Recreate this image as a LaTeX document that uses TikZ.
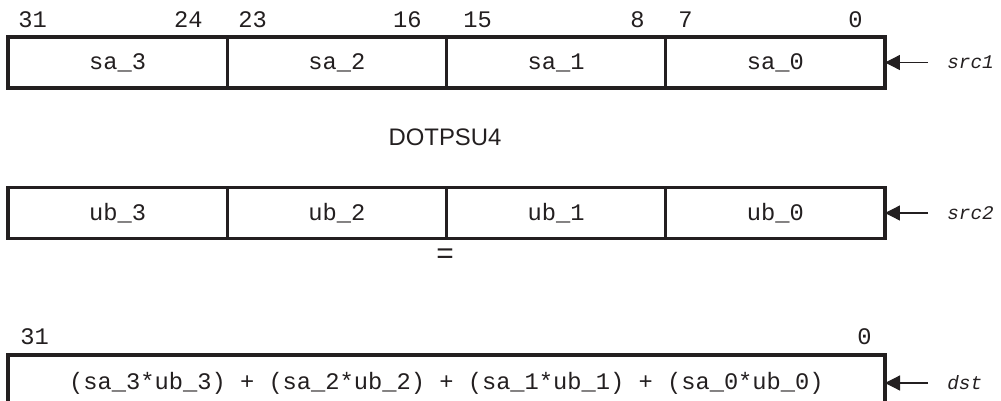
\documentclass[tikz,border=0pt]{standalone}
\usepackage{fontspec}
\setmainfont{Liberation Sans}
\setmonofont{Liberation Mono}
\usetikzlibrary{positioning, arrows.meta}

\definecolor{ink}{HTML}{231F20}

\tikzset{
    cell/.style={draw=ink, text=ink, line width=1.8pt, minimum width=4.385cm, minimum height=1.02cm,
        inner sep=0pt, outer sep=0pt, font=\ttfamily\fontsize{13.5}{16}\selectfont},
    bitnum/.style={text=ink, inner sep=0pt, font=\ttfamily\fontsize{13.5}{16}\selectfont},
    regname/.style={text=ink, inner sep=0pt, anchor=west, font=\ttfamily\itshape\fontsize{11}{13}\selectfont},
    feed/.style={draw=ink, line width=0.7pt, -{Triangle[length=0.3cm, width=0.3cm]}, shorten <=0.38cm}
}

\begin{document}
\begin{tikzpicture}
    \clip (0,0) rectangle (20.02,-8.02);

    % src1 register
    \node[cell] (sa3) at (2.352,-1.25) {sa\_3};
    \node[cell, right=0pt of sa3] (sa2) {sa\_2};
    \node[cell, right=0pt of sa2] (sa1) {sa\_1};
    \node[cell, right=0pt of sa1] (sa0) {sa\_0};

    % bit positions
    \node[bitnum, anchor=west] (b31) at (0.36,-0.40) {31};
    \node[bitnum, anchor=east] (b24) at (4.06,-0.40) {24};
    \node[bitnum, anchor=west] (b23) at (4.76,-0.40) {23};
    \node[bitnum, anchor=east] (b16) at (8.44,-0.40) {16};
    \node[bitnum, anchor=west] (b15) at (9.26,-0.40) {15};
    \node[bitnum, anchor=east] (b8) at (12.90,-0.40) {8};
    \node[bitnum, anchor=west] (b7) at (13.56,-0.40) {7};
    \node[bitnum, anchor=east] (b0) at (17.26,-0.40) {0};

    \node[regname] (src1) at (18.94,-1.25) {src1};
    \draw[feed] (src1.west) -- (sa0.east);

    % operation
    \node[text=ink, inner sep=0pt, font=\fontsize{13.6}{16}\selectfont] (op) at (8.9,-2.74) {DOTPSU4};

    % src2 register
    \node[cell] (ub3) at (2.352,-4.26) {ub\_3};
    \node[cell, right=0pt of ub3] (ub2) {ub\_2};
    \node[cell, right=0pt of ub2] (ub1) {ub\_1};
    \node[cell, right=0pt of ub1] (ub0) {ub\_0};

    \node[regname] (src2) at (18.94,-4.26) {src2};
    \draw[feed] (src2.west) -- (ub0.east);

    \node[text=ink, inner sep=0pt, font=\fontsize{17}{20}\selectfont] (eq) at (8.9,-5.12) {=};

    % dst register
    \node[bitnum, anchor=west] (d31) at (0.40,-6.74) {31};
    \node[bitnum, anchor=east] (d0) at (17.44,-6.74) {0};
    \node[cell, minimum width=17.54cm, minimum height=1.12cm] (res) at (8.93,-7.66)
        {(sa\_3*ub\_3) + (sa\_2*ub\_2) + (sa\_1*ub\_1) + (sa\_0*ub\_0)};

    \node[regname] (dst) at (18.94,-7.66) {dst};
    \draw[feed] (dst.west) -- (res.east);
\end{tikzpicture}
\end{document}
